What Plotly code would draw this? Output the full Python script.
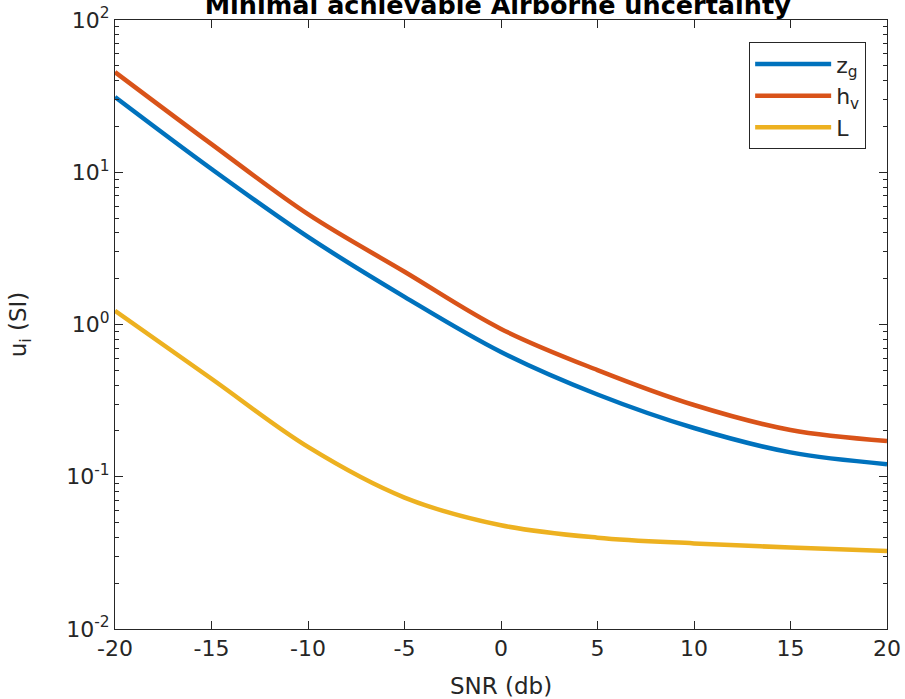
import plotly.graph_objects as go

snr = [-20, -15, -10, -5, 0, 5, 10, 15, 20]
u_zg = [31.2, 10.5, 3.76, 1.52, 0.66, 0.347, 0.209, 0.1445, 0.121]
u_hv = [45.5, 15.3, 5.3, 2.22, 0.935, 0.502, 0.296, 0.203, 0.172]
u_L = [1.23, 0.44, 0.157, 0.073, 0.048, 0.0398, 0.0365, 0.0343, 0.0325]

series_names = ["z<sub>g</sub>", "h<sub>v</sub>", "L"]
series_colors = ["#0072BD", "#D95319", "#EDB120"]

x_ticks = [-20, -15, -10, -5, 0, 5, 10, 15, 20]
x_tick_text = ["-20", "-15", "-10", "-5", "0", "5", "10", "15", "20"]
y_ticks = [0.01, 0.1, 1, 10, 100]
y_tick_text = ["10<sup>-2</sup>", "10<sup>-1</sup>", "10<sup>0</sup>", "10<sup>1</sup>", "10<sup>2</sup>"]

axis_color = "#262626"
font_family = "DejaVu Sans"

fig = go.Figure()
for name, ys, col in zip(series_names, [u_zg, u_hv, u_L], series_colors):
    fig.add_trace(go.Scatter(x=snr, y=ys, mode="lines", name=name,
                             line=dict(color=col, width=4.5, shape="spline", smoothing=1.0)))

fig.update_layout(
    width=905, height=699,
    margin=dict(l=115, r=18, t=20, b=70),
    paper_bgcolor="white", plot_bgcolor="white",
    font=dict(family=font_family, color=axis_color, size=22),
    title=dict(text="<b>Minimal achievable Airborne uncertainty</b>",
               x=0.550, xanchor="center", y=1 - 5 / 699, yanchor="middle",
               yref="container", font=dict(size=25.5, color="black")),
    showlegend=True,
    legend=dict(x=0.973, xanchor="right", y=0.9635, yanchor="top",
                bordercolor=axis_color, borderwidth=1, bgcolor="white",
                font=dict(size=22), itemwidth=76),
)

fig.update_xaxes(range=[-20, 20], tickvals=x_ticks, ticktext=x_tick_text,
                 ticks="inside", ticklen=8, automargin=False,
                 tickcolor=axis_color, showline=True, linecolor=axis_color, linewidth=1,
                 mirror="ticks", showgrid=False, zeroline=False,
                 title=dict(text="SNR (db)", font=dict(size=23), standoff=19),
                 tickfont=dict(size=22))
fig.update_yaxes(type="log", range=[-2, 2], tickvals=y_ticks, ticktext=y_tick_text,
                 ticks="inside", ticklen=8, tickcolor=axis_color, automargin=False,
                 showline=True, linecolor=axis_color, linewidth=1, mirror="ticks",
                 showgrid=False, zeroline=False,
                 minor=dict(ticks="inside", ticklen=4, dtick="D1", tickcolor=axis_color, showgrid=False),
                 title=dict(text="u<sub>i</sub> (SI)", font=dict(size=23), standoff=33),
                 tickfont=dict(size=22))

fig.write_html("out.html")
